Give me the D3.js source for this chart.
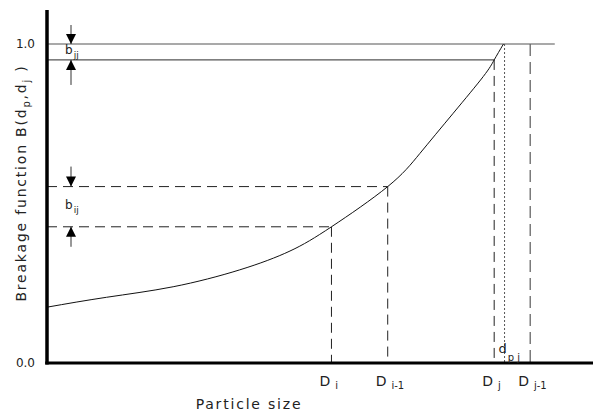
<!DOCTYPE html>
<html><head><meta charset="utf-8">
<script src="https://cdn.jsdelivr.net/npm/d3@7"></script>
<style>
html,body{margin:0;padding:0;background:#fff;}
svg{display:block;}
text,tspan{font-family:"DejaVu Sans",sans-serif;fill:#222;}
</style></head>
<body>
<svg id="c" width="593" height="411"></svg>
<script>
// Curve: breakage function vs particle size (arbitrary size units 0..10)
const curveX = [0, 1.09, 2.31, 3.53, 4.45, 5.21, 6.24, 6.83, 7.44, 7.99, 8.19, 8.36];
const curveB = [0.175, 0.206, 0.239, 0.292, 0.351, 0.427, 0.553, 0.657, 0.783, 0.898, 0.95, 1.0];
// Size class boundaries
const sizeNames = ["D", "D", "D", "D"];
const sizeSubs = ["i", "i-1", "j", "j-1"];
const sizeX = [5.21, 6.24, 8.19, 8.85];
const sizeB = [0.427, 0.553, 0.95, 1.0];
const dpjX = 8.38;
const topLineEnd = 9.3;
const yTicks = [0, 1];

const svg = d3.select("#c");
const x = d3.scaleLinear().domain([0, 10]).range([47, 593]);
const y = d3.scaleLinear().domain([0, 1]).range([363, 44]);

// Horizontal reference lines at 1.0 and B(D_j)
svg.append("line").attr("x1", x(0)).attr("x2", x(topLineEnd)).attr("y1", y(1)).attr("y2", y(1))
  .attr("stroke", "#555").attr("stroke-width", 1.2);
svg.append("line").attr("x1", x(0)).attr("x2", x(sizeX[2])).attr("y1", y(sizeB[2])).attr("y2", y(sizeB[2]))
  .attr("stroke", "#555").attr("stroke-width", 1.2);

// Dashed horizontals for D_i and D_{i-1}
[0, 1].forEach(k => {
  svg.append("line").attr("x1", x(0)).attr("x2", x(sizeX[k])).attr("y1", y(sizeB[k])).attr("y2", y(sizeB[k]))
    .attr("stroke", "#222").attr("stroke-width", 1).attr("stroke-dasharray", "10,6");
});
// Dashed verticals
[0, 1, 2].forEach(k => {
  svg.append("line").attr("x1", x(sizeX[k])).attr("x2", x(sizeX[k])).attr("y1", y(sizeB[k])).attr("y2", y(0))
    .attr("stroke", "#222").attr("stroke-width", 1).attr("stroke-dasharray", "10,6");
});
svg.append("line").attr("x1", x(sizeX[3])).attr("x2", x(sizeX[3])).attr("y1", y(sizeB[3])).attr("y2", y(0))
  .attr("stroke", "#666").attr("stroke-width", 1.3).attr("stroke-dasharray", "12,6");
// Dotted vertical at d_p,j
svg.append("line").attr("x1", x(dpjX)).attr("x2", x(dpjX)).attr("y1", y(1)).attr("y2", y(0))
  .attr("stroke", "#555").attr("stroke-width", 1).attr("stroke-dasharray", "2,2");

// Curve
const pts = curveX.map((v, i) => [v, curveB[i]]);
svg.append("path").datum(pts)
  .attr("d", d3.line().x(d => x(d[0])).y(d => y(d[1])).curve(d3.curveNatural))
  .attr("fill", "none").attr("stroke", "#111").attr("stroke-width", 1);

// Axes
const ax = svg.append("g").attr("transform", `translate(${x(0)},0)`)
  .call(d3.axisLeft(y).tickValues(yTicks).tickFormat(d3.format(".1f")).tickSize(0).tickPadding(12));
ax.select(".domain").remove();
ax.selectAll("text").attr("font-family", "'DejaVu Sans',sans-serif").attr("font-size", 12).attr("fill", "#222");
svg.append("line").attr("x1", x(0)).attr("x2", x(0)).attr("y1", 10).attr("y2", y(0) + 1.5)
  .attr("stroke", "#000").attr("stroke-width", 3.5);
svg.append("line").attr("x1", x(0) - 1.75).attr("x2", 593).attr("y1", y(0)).attr("y2", y(0))
  .attr("stroke", "#000").attr("stroke-width", 3);

// Arrows
const ax0 = 71;
function arrow(yTip, dir, len) { // dir: +1 pointing down, -1 pointing up
  const tail = yTip - dir * len;
  svg.append("line").attr("x1", ax0).attr("x2", ax0).attr("y1", tail).attr("y2", yTip)
    .attr("stroke", "#333").attr("stroke-width", 1);
  svg.append("path").attr("d", `M${ax0},${yTip} L${ax0 - 5},${yTip - dir * 10} L${ax0 + 5},${yTip - dir * 10} Z`)
    .attr("fill", "#000");
}
arrow(y(1), 1, 19);
arrow(y(sizeB[2]), -1, 25);
arrow(y(sizeB[1]), 1, 20);
arrow(y(sizeB[0]), -1, 20);

function subLabel(tx, ty, main, sub, fs, subDx, subDy) {
  const t = svg.append("text").attr("x", tx).attr("y", ty).attr("font-size", fs).attr("fill", "#222");
  t.append("tspan").attr("fill", "#222").text(main);
  t.append("tspan").attr("dx", subDx).attr("dy", subDy).attr("font-size", fs * 0.75).attr("fill", "#222").text(sub);
  return t;
}
subLabel(65, 54, "b", "jj", 12, 1, 4);
subLabel(65, 209, "b", "ij", 12, 1, 4);

// Size class labels
sizeX.forEach((v, k) => {
  const t = svg.append("text").attr("x", x(v) - 12).attr("y", 386).attr("fill", "#222")
    .attr("font-family", "'DejaVu Serif',serif").attr("font-size", 14);
  t.append("tspan").attr("fill", "#222").text(sizeNames[k]);
  t.append("tspan").attr("dx", 5).attr("dy", 3).attr("font-size", 10).attr("fill", "#222")
    .attr("font-family", "'DejaVu Sans',sans-serif").text(sizeSubs[k]);
});
// d_p,j label
const dl = svg.append("text").attr("x", x(dpjX) - 6).attr("y", 353).attr("font-size", 13).attr("fill", "#222");
dl.append("tspan").attr("fill", "#222").text("d");
dl.append("tspan").attr("dx", 1).attr("dy", 8).attr("font-size", 10).attr("fill", "#222").text("p");
dl.append("tspan").attr("dx", 3).attr("font-size", 10).attr("fill", "#222").text("j");

// Axis titles
svg.append("text").attr("x", 249).attr("y", 409).attr("text-anchor", "middle").attr("fill", "#222")
  .attr("font-size", 14).attr("letter-spacing", 1.8).text("Particle size");
const yl = svg.append("text").attr("transform", "translate(26,183) rotate(-90)").attr("fill", "#222")
  .attr("text-anchor", "middle").attr("font-size", 14).attr("letter-spacing", 1.8);
yl.append("tspan").attr("fill", "#222").text("Breakage function B(d");
yl.append("tspan").attr("dy", 4).attr("font-size", 10).attr("fill", "#222").text("p");
yl.append("tspan").attr("dy", -4).attr("fill", "#222").text(",d");
yl.append("tspan").attr("dy", 4).attr("font-size", 10).attr("fill", "#222").text("j");
yl.append("tspan").attr("dy", -4).attr("fill", "#222").text(" )");
</script>
</body></html>
